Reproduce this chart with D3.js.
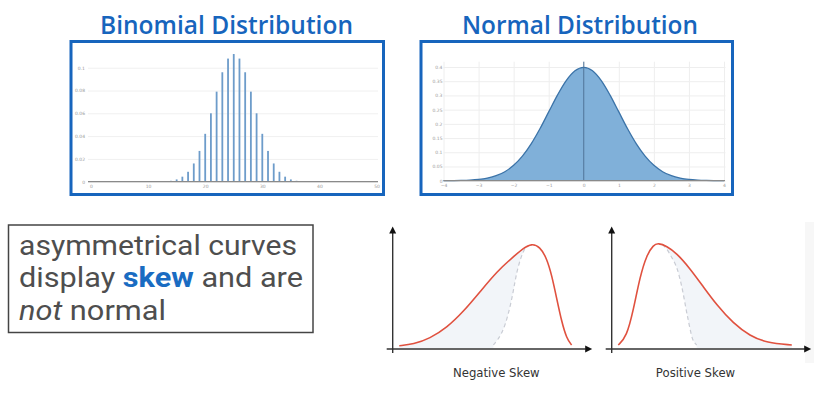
<!DOCTYPE html>
<html>
<head>
<meta charset="utf-8">
<script src="https://cdn.jsdelivr.net/npm/d3@7"></script>
<style>
  body { margin: 0; background: #fff; }
  svg { display: block; }
</style>
</head>
<body>
<svg id="chart" width="814" height="399"></svg>
<script>
/// DATA ///
const titles = ["Binomial Distribution", "Normal Distribution"];

// binomial n=50, p=0.5
const binomK = [14, 15, 16, 17, 18, 19, 20, 21, 22, 23, 24, 25, 26, 27, 28, 29, 30, 31, 32, 33, 34, 35, 36];
const binomP = [0.0008, 0.002, 0.0044, 0.0087, 0.016, 0.027, 0.042, 0.06, 0.079, 0.096, 0.108, 0.112,
  0.108, 0.096, 0.079, 0.06, 0.042, 0.027, 0.016, 0.0087, 0.0044, 0.002, 0.0008];
const binomXTicks = [0, 10, 20, 30, 40, 50];
const binomYTicks = [0, 0.02, 0.04, 0.06, 0.08, 0.1];

// standard normal curve
const normalX = [-4, -3.75, -3.5, -3.25, -3, -2.75, -2.5, -2.25, -2, -1.75, -1.5, -1.25, -1, -0.75, -0.5, -0.25,
  0, 0.25, 0.5, 0.75, 1, 1.25, 1.5, 1.75, 2, 2.25, 2.5, 2.75, 3, 3.25, 3.5, 3.75, 4];
const normalY = [0.0001, 0.0004, 0.0009, 0.002, 0.0044, 0.0091, 0.0175, 0.0317, 0.054, 0.0863, 0.1295, 0.1826,
  0.242, 0.3011, 0.3521, 0.3867, 0.3989, 0.3867, 0.3521, 0.3011, 0.242, 0.1826, 0.1295, 0.0863, 0.054,
  0.0317, 0.0175, 0.0091, 0.0044, 0.002, 0.0009, 0.0004, 0.0001];
const normalXTicks = [-4, -3, -2, -1, 0, 1, 2, 3, 4];
const normalYTicks = [0, 0.05, 0.1, 0.15, 0.2, 0.25, 0.3, 0.35, 0.4];

// skew sketches, x in 0..10, y in 0..1
const negSkewX = [0.33, 1.04, 1.87, 2.71, 3.55, 4.39, 5.23, 6.06, 6.56, 6.98, 7.4, 7.74, 7.99, 8.24, 8.49, 8.74, 8.99];
const negSkewY = [0.031, 0.044, 0.1, 0.2, 0.352, 0.54, 0.73, 0.87, 0.95, 0.995, 0.965, 0.855, 0.698, 0.478, 0.258, 0.1, 0.038];
const negDashX = [5.06, 5.48, 5.81, 6.06, 6.23, 6.48, 6.65];
const negDashY = [0.038, 0.132, 0.32, 0.54, 0.73, 0.887, 0.95];

const posSkewX = [0.33, 0.75, 1.09, 1.42, 1.76, 2.09, 2.34, 2.76, 3.27, 3.93, 4.6, 5.28, 6.11, 6.95, 7.79, 9.05];
const posSkewY = [0.038, 0.116, 0.368, 0.682, 0.887, 0.981, 1.0, 0.972, 0.903, 0.761, 0.588, 0.415, 0.242, 0.123, 0.059, 0.038];
const posDashX = [2.55, 2.76, 3.0, 3.27, 3.45, 3.6, 3.75, 3.85, 4.0, 4.1, 4.27];
const posDashY = [0.985, 0.95, 0.87, 0.78, 0.65, 0.52, 0.36, 0.27, 0.13, 0.07, 0.038];

const skewLabels = ["Negative Skew", "Positive Skew"];
const noteLines = ["asymmetrical curves", "display skew and are", "not normal"];

/// SETUP ///
const svg = d3.select("#chart");
const blue = "#1765bd";
const tinyFont = "'DejaVu Sans', sans-serif";

svg.append("rect").attr("width", 814).attr("height", 399).attr("fill", "#fff");
// faint strip at the right edge of the slide
svg.append("rect").attr("x", 805).attr("y", 222).attr("width", 9).attr("height", 141).attr("fill", "#f7f7f7");

// titles
const titleBoxes = [
  { cx: 226.5, w: 253 },
  { cx: 580, w: 236 },
];
svg.selectAll(".title")
  .data(titles)
  .enter()
  .append("text")
  .attr("class", "title")
  .attr("x", (d, i) => titleBoxes[i].cx)
  .attr("y", 33.5)
  .attr("text-anchor", "middle")
  .attr("textLength", (d, i) => titleBoxes[i].w)
  .attr("lengthAdjust", "spacingAndGlyphs")
  .style("font-family", "'Open Sans', sans-serif")
  .style("font-weight", 600)
  .style("font-size", "25px")
  .attr("fill", blue)
  .text((d) => d);

// panel frames
svg.append("rect").attr("x", 71).attr("y", 41.5).attr("width", 312.5).attr("height", 153)
  .attr("fill", "#fff").attr("stroke", blue).attr("stroke-width", 3);
svg.append("rect").attr("x", 421).attr("y", 41.5).attr("width", 311.5).attr("height", 153)
  .attr("fill", "#fff").attr("stroke", blue).attr("stroke-width", 3);

/// BINOMIAL ///
const xBin = d3.scaleLinear().domain([0, 50]).range([91, 376.5]);
const yBin = d3.scaleLinear().domain([0, 0.1]).range([181.7, 67.7]);
const binChart = svg.append("g");

binChart.append("g")
  .attr("transform", "translate(88,0)")
  .call(d3.axisLeft(yBin).tickValues(binomYTicks).tickSize(-290).tickPadding(3)
    .tickFormat((d) => String(+d.toFixed(2))))
  .call((g) => g.select(".domain").remove())
  .call((g) => g.selectAll("line").attr("stroke", "#f0f0f0"))
  .call((g) => g.selectAll("text").attr("fill", "#999").style("font-size", "4.5px").style("font-family", tinyFont));

binChart.append("g")
  .attr("transform", "translate(0,181.7)")
  .call(d3.axisBottom(xBin).tickValues(binomXTicks).tickSize(0).tickPadding(3))
  .call((g) => g.select(".domain").remove())
  .call((g) => g.selectAll("text").attr("fill", "#999").style("font-size", "4.5px").style("font-family", tinyFont));

binChart.selectAll(".bar")
  .data(binomK)
  .enter()
  .append("rect")
  .attr("class", "bar")
  .attr("x", (d) => xBin(d) - 0.9)
  .attr("width", 1.8)
  .attr("y", (d, i) => yBin(binomP[i]))
  .attr("height", (d, i) => yBin(0) - yBin(binomP[i]))
  .attr("fill", "#6d9cca");

binChart.append("line")
  .attr("x1", 88).attr("x2", 378).attr("y1", 181.7).attr("y2", 181.7)
  .attr("stroke", "#8a8a8a").attr("stroke-width", 1.3);

/// NORMAL ///
const xNorm = d3.scaleLinear().domain([-4, 4]).range([443.5, 724]);
const yNorm = d3.scaleLinear().domain([0, 0.4]).range([180.7, 67]);
const normChart = svg.append("g");

normChart.append("g")
  .attr("transform", "translate(443.5,0)")
  .call(d3.axisLeft(yNorm).tickValues(normalYTicks).tickSize(-282).tickPadding(1)
    .tickFormat((d) => String(+d.toFixed(2))))
  .call((g) => g.select(".domain").remove())
  .call((g) => g.selectAll("line").attr("stroke", "#eeeeee"))
  .call((g) => g.selectAll("text").attr("fill", "#999").style("font-size", "4.5px").style("font-family", tinyFont));

normChart.append("g")
  .attr("transform", "translate(0,180.7)")
  .call(d3.axisBottom(xNorm).tickValues(normalXTicks).tickSize(-119).tickPadding(3))
  .call((g) => g.select(".domain").remove())
  .call((g) => g.selectAll("line").attr("stroke", "#eeeeee"))
  .call((g) => g.selectAll("text").attr("fill", "#999").style("font-size", "4.5px").style("font-family", tinyFont));

const normPts = normalX.map((x, i) => [x, normalY[i]]);
normChart.append("path")
  .datum(normPts)
  .attr("d", d3.area().x((d) => xNorm(d[0])).y0(yNorm(0)).y1((d) => yNorm(d[1])).curve(d3.curveMonotoneX))
  .attr("fill", "#80b0d9");
normChart.append("path")
  .datum(normPts)
  .attr("d", d3.line().x((d) => xNorm(d[0])).y((d) => yNorm(d[1])).curve(d3.curveMonotoneX))
  .attr("fill", "none")
  .attr("stroke", "#3b73a8")
  .attr("stroke-width", 1.3);

// zero line
normChart.append("line")
  .attr("x1", xNorm(0)).attr("x2", xNorm(0)).attr("y1", 61.7).attr("y2", 180.7)
  .attr("stroke", "#4f7397").attr("stroke-width", 1);
normChart.append("line")
  .attr("x1", 443.5).attr("x2", 725).attr("y1", 180.7).attr("y2", 180.7)
  .attr("stroke", "#8a8a8a").attr("stroke-width", 1.2);

/// NOTE BOX ///
svg.append("rect").attr("x", 8.5).attr("y", 225).attr("width", 304.5).attr("height", 107.5)
  .attr("fill", "#fff").attr("stroke", "#444").attr("stroke-width", 1.5);

const noteY = [255, 287.3, 320];
const noteW = [278, 284, 147];
const noteText = svg.selectAll(".note")
  .data(noteLines)
  .enter()
  .append("text")
  .attr("class", "note")
  .attr("x", 19)
  .attr("y", (d, i) => noteY[i])
  .attr("textLength", (d, i) => noteW[i])
  .attr("lengthAdjust", "spacingAndGlyphs")
  .style("font-family", "Roboto, sans-serif")
  .style("font-weight", 400)
  .style("font-size", "27px")
  .attr("fill", "#4e4e4e");

noteText.each(function (d) {
  const t = d3.select(this);
  d.split(/(skew|not)/).filter((s) => s.length).forEach((s) => {
    const span = t.append("tspan").text(s);
    if (s === "skew") span.style("font-weight", 700).attr("fill", "#1a6cc2");
    if (s === "not") span.style("font-style", "italic");
  });
});

/// SKEW SKETCHES ///
function drawSkew(axisX, curveX, curveY, dashX, dashY, tailIsLeft, label, labelX) {
  const g = svg.append("g");
  const xs = d3.scaleLinear().domain([0, 10]).range([axisX, axisX + 199]);
  const ys = d3.scaleLinear().domain([0, 1]).range([349, 243]);
  const curve = curveX.map((x, i) => [x, curveY[i]]);
  const dash = dashX.map((x, i) => [x, dashY[i]]);
  const peak = d3.maxIndex(curveY);

  // symmetric part: shared half of the skew curve + dashed half
  const sym = tailIsLeft ? dash.concat(curve.slice(peak)) : curve.slice(0, peak + 1).concat(dash);

  const smooth = d3.curveBasis;
  const area = d3.area().x((d) => xs(d[0])).y0(348).y1((d) => ys(d[1])).curve(smooth);
  const line = d3.line().x((d) => xs(d[0])).y((d) => ys(d[1])).curve(smooth);

  g.append("path").datum(curve).attr("d", area).attr("fill", "#f2f5f9");
  g.append("path").datum(sym).attr("d", area).attr("fill", "#fff");
  g.append("path").datum(dash).attr("d", line)
    .attr("fill", "none").attr("stroke", "#c9ccd4").attr("stroke-width", 1.2).attr("stroke-dasharray", "4,3");
  g.append("path").datum(curve).attr("d", line)
    .attr("fill", "none").attr("stroke", "#e0513f").attr("stroke-width", 1.6);

  // axes with arrow heads
  g.append("line").attr("x1", axisX).attr("x2", axisX).attr("y1", 353).attr("y2", 231)
    .attr("stroke", "#333").attr("stroke-width", 1.4);
  g.append("line").attr("x1", axisX - 6).attr("x2", axisX + 193).attr("y1", 349).attr("y2", 349)
    .attr("stroke", "#333").attr("stroke-width", 1.4);
  g.append("path")
    .attr("d", `M${axisX},226.5L${axisX - 3.5},233.5L${axisX + 3.5},233.5Z`)
    .attr("fill", "#111");
  g.append("path")
    .attr("d", `M${axisX + 199.5},349L${axisX + 192.5},345.5L${axisX + 192.5},352.5Z`)
    .attr("fill", "#111");

  g.append("text")
    .attr("x", labelX)
    .attr("y", 377)
    .attr("text-anchor", "middle")
    .style("font-family", "'DejaVu Sans', sans-serif")
    .style("font-size", "11.7px")
    .attr("fill", "#333")
    .text(label);
}

drawSkew(392.7, negSkewX, negSkewY, negDashX, negDashY, true, skewLabels[0], 496.3);
drawSkew(611.7, posSkewX, posSkewY, posDashX, posDashY, false, skewLabels[1], 695.5);
</script>
</body>
</html>
